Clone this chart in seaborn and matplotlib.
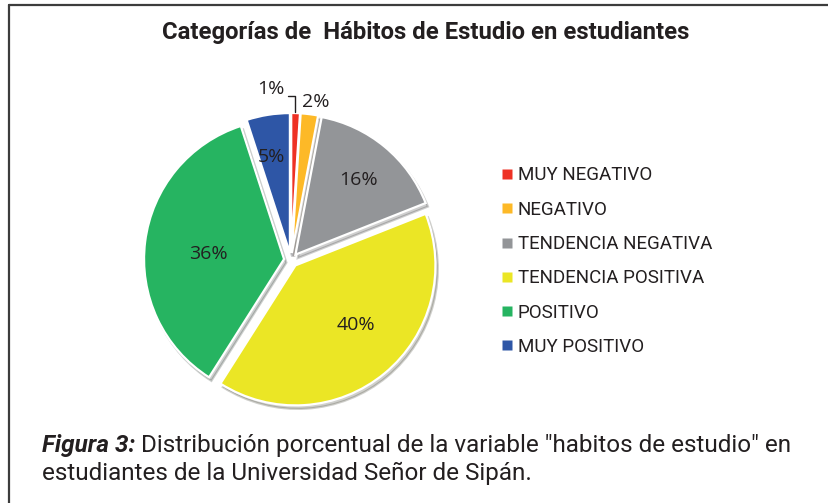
import matplotlib
matplotlib.use("Agg")
import matplotlib.pyplot as plt
from matplotlib.lines import Line2D
import numpy as np
import seaborn as sns

categories = ["MUY NEGATIVO", "NEGATIVO", "TENDENCIA NEGATIVA",
              "TENDENCIA POSITIVA", "POSITIVO", "MUY POSITIVO"]
values = [1, 2, 16, 40, 36, 5]
colors_hex = ["#EE3124", "#FDB927", "#939598", "#EBE625", "#26B461", "#2E56A6"]
title_text = "Categorías de  Hábitos de Estudio en estudiantes"
caption_bold = "Figura 3:"
caption_line1 = " Distribución porcentual de la variable \"habitos de estudio\" en"
caption_line2 = "estudiantes de la Universidad Señor de Sipán."

sns.set_theme(style="white")
plt.rcParams["font.family"] = ["Open Sans", "DejaVu Sans"]
palette = sns.color_palette(colors_hex)

W, H = 829, 503
fig = plt.figure(figsize=(W / 100, H / 100), dpi=100)
fig.patch.set_facecolor("white")

cx, cy, R = 291, 260, 140
half = 1.3 * R
ax = fig.add_axes([(cx - half) / W, (H - cy - half) / H, 2 * half / W, 2 * half / H])

explode = [0.05] * len(values)
wedges, _ = ax.pie(values, colors=palette, startangle=90, counterclock=False,
                   explode=explode,
                   wedgeprops=dict(edgecolor="white", linewidth=1.6),
                   shadow=dict(ox=0.012, oy=-0.018, shade=0.9, alpha=0.2))
ax.set_xlim(-1.3, 1.3)
ax.set_ylim(-1.3, 1.3)
ax.set_aspect("equal")
ax.axis("off")

# percentage labels: radial distance and angular nudge per slice (style)
label_dist = [1.22, 1.139, 0.745, 0.657, 0.594, 0.748]
label_dang = [0.0, -1.6, -0.4, 5.4, 3.1, 1.5]
txt_color = "#231F20"
fs_pct = 14
for i, (w, v) in enumerate(zip(wedges, values)):
    if i == 0:
        continue
    ang = np.deg2rad((w.theta1 + w.theta2) / 2 + label_dang[i])
    d = label_dist[i]
    ax.text(d * np.cos(ang), d * np.sin(ang), f"{v}%", ha="center", va="center",
            fontsize=fs_pct, color=txt_color)

# 1% label with leader line
w0 = wedges[0]
mid0 = np.deg2rad((w0.theta1 + w0.theta2) / 2)
tip = (1.02 * np.cos(mid0), 1.06 * np.sin(mid0))
ax.annotate(f"{values[0]}%", xy=tip, xytext=(-0.143, 1.218),
            ha="center", va="center", fontsize=fs_pct, color=txt_color,
            arrowprops=dict(arrowstyle="-", color="#231F20", lw=1.0,
                            connectionstyle="angle,angleA=0,angleB=90,rad=0",
                            shrinkA=0, shrinkB=0, relpos=(1.0, 0.15)))

# legend
handles = [Line2D([0], [0], marker="s", linestyle="none", markersize=7,
                  markerfacecolor=c, markeredgecolor="none") for c in palette]
leg = fig.legend(handles, categories, loc="upper left",
                 bbox_to_anchor=(493.5 / W, 1 - 159 / H), frameon=False,
                 prop=dict(family="Roboto", size=13.5), labelspacing=0.87,
                 handlelength=0.6, handletextpad=0.3, borderaxespad=0)
for t in leg.get_texts():
    t.set_color("#231F20")

# title
fig.text(426 / W, 1 - 32 / H, title_text, ha="center", va="center",
         fontsize=17.2, fontweight="bold", family="Roboto", color="#231F20")

# caption
fig.canvas.draw()
renderer = fig.canvas.get_renderer()
cap_fs = 17.5
x0 = 42
tb = fig.text(x0 / W, 1 - 452 / H, caption_bold, ha="left", va="baseline",
              fontsize=cap_fs, fontweight="bold", fontstyle="italic",
              family="Roboto", color="#231F20")
bb = tb.get_window_extent(renderer=renderer)
fig.text(bb.x1 / W, 1 - 452 / H, caption_line1, ha="left", va="baseline",
         fontsize=cap_fs, family="Roboto", color="#231F20")
fig.text(x0 / W, 1 - 480 / H, caption_line2, ha="left", va="baseline",
         fontsize=cap_fs, family="Roboto", color="#231F20")

# border
fig.add_artist(Line2D([9.5 / W, 9.5 / W], [0, 1 - 4.5 / H], color="#3c3c3c", lw=1.6))
fig.add_artist(Line2D([9.5 / W, 1], [1 - 4.5 / H, 1 - 4.5 / H], color="#3c3c3c", lw=1.6))

fig.savefig("out.png", dpi=100, facecolor="white")
